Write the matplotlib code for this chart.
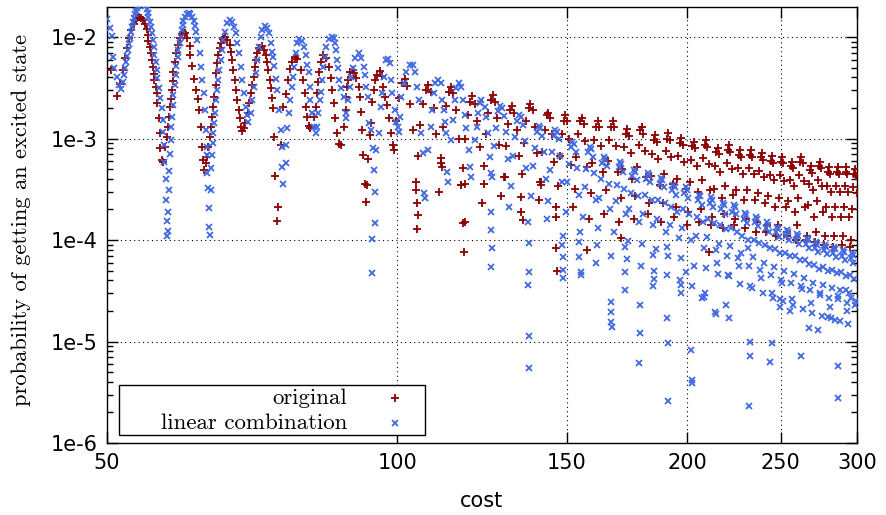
import matplotlib
matplotlib.use("Agg")
import matplotlib.pyplot as plt
from matplotlib.ticker import FixedLocator, FixedFormatter, NullLocator, LogLocator, NullFormatter
from matplotlib.patches import Rectangle

# ---------------- data ----------------
x_ticks = [50, 100, 150, 200, 250, 300]
x_tick_labels = ["50", "100", "150", "200", "250", "300"]
y_ticks = [1e-6, 1e-5, 1e-4, 1e-3, 1e-2]
y_tick_labels = ["1e-6", "1e-5", "1e-4", "1e-3", "1e-2"]

series_names = ["original", "linear combination"]

red_cost = [
    50.5, 51.2, 51.6,
    51.9, 52.2, 52.4, 52.7, 52.9, 53.3, 53.6, 53.7, 54.0, 54.2, 54.5, 54.7, 55.0, 55.1, 55.2, 55.4, 55.5, 55.65, 55.8, 55.9, 56.0, 56.2, 56.3, 56.4, 56.6, 56.7, 56.8, 57.0, 57.2,
    57.4, 57.7, 57.8, 58.0, 58.1, 58.2, 58.35, 58.5, 58.6, 58.8, 59.0, 59.2, 59.5, 59.75, 60.0, 60.3, 60.6, 60.9, 61.0, 61.3, 61.6, 61.9, 62.2, 62.3, 62.65, 62.8, 62.95, 63.1, 63.4,
    63.5, 63.6, 64.0, 64.15, 64.3, 64.45, 64.6, 64.8, 64.9, 65.1, 65.2, 65.5, 65.7, 66.0, 66.3, 66.6, 67.0, 67.3, 67.4, 67.6, 67.9, 68.1, 68.2, 68.6, 68.7, 68.9, 69.0, 69.4,
    69.5, 70.0, 70.2, 70.5, 70.7, 71.0, 71.2, 71.4, 71.5, 71.9, 72.4, 72.8, 73.1, 73.3, 73.4, 73.8, 74.0, 74.1, 74.3, 74.5, 74.7, 75.0, 75.2,
    75.75, 76.1, 76.65, 77.0, 77.4, 77.75, 78.3, 78.7, 79.4, 79.8, 80.2, 80.4, 80.6, 81.0, 81.3,
    81.9, 82.3, 82.5, 82.7, 82.9, 83.3, 83.7, 84.3, 84.9, 85.3, 85.5, 85.9, 86.3, 86.7, 87.1, 87.5,
    88.0, 88.4, 88.6, 88.8, 89.0, 89.4, 89.9, 90.3, 90.7, 91.2, 91.6, 91.8, 92.0, 92.2, 92.7, 92.9, 93.1, 93.3, 93.8,
    94.0, 94.2, 94.7, 94.9, 95.4, 96.0, 96.5, 96.7, 97.2, 97.6, 98.1, 98.6, 99.1,
    99.2, 99.8, 100.5, 101.2, 101.8, 102.5, 103.2, 103.9, 104.5,
    105.1, 105.7, 106.4, 107.1, 107.7, 108.4, 109.1, 109.8, 110.4,
    111.1, 111.7, 112.4, 113.1, 113.7, 114.4, 115.1, 115.8, 116.4,
    117.1, 117.7, 118.4, 119.1, 119.7, 120.4, 121.1, 121.8, 122.4,
    123.0, 123.6, 124.3, 125.0, 125.6, 126.3, 127.0, 127.7, 128.3,
    129.0, 129.6, 130.3, 131.0, 131.6, 132.3, 133.0, 133.7, 134.3,
    134.9, 135.5, 136.2, 136.9, 137.5, 138.2, 138.9, 139.6, 140.2,
    140.9, 141.5, 142.2, 142.9, 143.5, 144.2, 144.9, 145.6, 146.2,
    146.9, 147.5, 148.2, 148.9, 149.5, 150.2, 150.9, 151.6, 152.2,
    152.8, 153.4, 154.1, 154.8, 155.4, 156.1, 156.8, 157.5, 158.1,
    158.8, 159.4, 160.1, 160.8, 161.4, 162.1, 162.8, 163.5, 164.1,
    164.7, 165.3, 166.0, 166.7, 167.3, 168.0, 168.7, 169.4, 170.0,
    170.7, 171.3, 172.0, 172.7, 173.3, 174.0, 174.7, 175.4, 176.0,
    176.7, 177.3, 178.0, 178.7, 179.3, 180.0, 180.7, 181.4, 182.0,
    182.6, 183.2, 183.9, 184.6, 185.2, 185.9, 186.6, 187.3, 187.9,
    188.6, 189.2, 189.9, 190.6, 191.2, 191.9, 192.6, 193.3, 193.9,
    194.5, 195.1, 195.8, 196.5, 197.1, 197.8, 198.5, 199.2, 199.8,
    200.5, 201.1, 201.8, 202.5, 203.1, 203.8, 204.5, 205.2, 205.8,
    206.5, 207.1, 207.8, 208.5, 209.1, 209.8, 210.5, 211.2, 211.8,
    212.4, 213.0, 213.7, 214.4, 215.0, 215.7, 216.4, 217.1, 217.7,
    218.4, 219.0, 219.7, 220.4, 221.0, 221.7, 222.4, 223.1, 223.7,
    224.3, 224.9, 225.6, 226.3, 226.9, 227.6, 228.3, 229.0, 229.6,
    230.3, 230.9, 231.6, 232.3, 232.9, 233.6, 234.3, 235.0, 235.6,
    236.3, 236.9, 237.6, 238.3, 238.9, 239.6, 240.3, 241.0, 241.6,
    242.2, 242.8, 243.5, 244.2, 244.8, 245.5, 246.2, 246.9, 247.5,
    248.2, 248.8, 249.5, 250.2, 250.8, 251.5, 252.2, 252.9, 253.5,
    254.1, 254.7, 255.4, 256.1, 256.7, 257.4, 258.1, 258.8, 259.4,
    260.1, 260.7, 261.4, 262.1, 262.7, 263.4, 264.1, 264.8, 265.4,
    266.1, 266.7, 267.4, 268.1, 268.7, 269.4, 270.1, 270.8, 271.4,
    272.0, 272.6, 273.3, 274.0, 274.6, 275.3, 276.0, 276.7, 277.3,
    278.0, 278.6, 279.3, 280.0, 280.6, 281.3, 282.0, 282.7, 283.3,
    283.9, 284.5, 285.2, 285.9, 286.5, 287.2, 287.9, 288.6, 289.2,
    289.9, 290.5, 291.2, 291.9, 292.5, 293.2, 293.9, 294.6, 295.2,
    295.9, 296.5, 297.2, 297.9, 298.5, 299.2, 299.9,
]
red_prob = [
    4.7e-3, 2.6e-3, 3.45e-3,
    4.7e-3, 6.2e-3, 7.8e-3, 9.8e-3, 1.17e-2, 1.34e-2, 1.47e-2, 1.54e-2, 1.57e-2, 1.54e-2, 1.47e-2, 1.34e-2, 1.2e-2, 1.05e-2, 9.1e-3, 8.0e-3, 6.95e-3, 5.9e-3, 5.1e-3, 4.3e-3, 3.8e-3, 3.2e-3, 2.8e-3, 2.24e-3, 1.6e-3, 1.13e-3, 8.1e-4, 6.1e-4, 5.9e-4,
    8.2e-4, 1.03e-3, 1.3e-3, 1.62e-3, 2.05e-3, 2.45e-3, 3.0e-3, 3.7e-3, 4.5e-3, 5.7e-3, 6.95e-3, 8.3e-3, 9.8e-3, 1.07e-2, 1.12e-2, 1.09e-2, 9.8e-3, 8.1e-3, 6.65e-3, 5.2e-3, 3.85e-3, 3.0e-3, 2.45e-3, 1.9e-3, 1.3e-3, 8.2e-4, 6.1e-4, 4.9e-4, 5.7e-4,
    6.6e-4, 8.2e-4, 1.03e-3, 1.3e-3, 1.62e-3, 2.05e-3, 2.56e-3, 3.4e-3, 4.4e-3, 5.5e-3, 6.65e-3, 7.8e-3, 8.7e-3, 9.6e-3, 1.0e-2, 9.3e-3, 8.3e-3, 7.1e-3, 5.9e-3, 4.7e-3, 3.8e-3, 3.0e-3, 2.4e-3, 1.9e-3, 1.6e-3, 1.3e-3, 1.18e-3, 1.26e-3,
    1.43e-3, 1.79e-3, 2.24e-3, 2.8e-3, 3.4e-3, 4.0e-3, 5.1e-3, 5.9e-3, 6.95e-3, 7.8e-3, 8.15e-3, 7.45e-3, 6.65e-3, 5.7e-3, 4.7e-3, 3.8e-3, 3.15e-3, 2.5e-3, 2.0e-3, 1.03e-3, 4.3e-4, 1.53e-4, 2.1e-4,
    8.6e-4, 2.05e-3, 2.74e-3, 3.8e-3, 4.85e-3, 5.7e-3, 6.35e-3, 6.1e-3, 4.7e-3, 3.8e-3, 2.8e-3, 2.05e-3, 1.62e-3, 1.33e-3, 1.26e-3,
    1.62e-3, 2.05e-3, 2.8e-3, 3.6e-3, 4.5e-3, 5.7e-3, 6.65e-3, 6.2e-3, 5.1e-3, 3.95e-3, 3.0e-3, 2.24e-3, 1.6e-3, 1.13e-3, 8.8e-4, 8.6e-4,
    1.3e-3, 1.9e-3, 2.56e-3, 3.2e-3, 3.8e-3, 4.5e-3, 4.7e-3, 4.4e-3, 3.95e-3, 3.2e-3, 2.56e-3, 1.84e-3, 1.22e-3, 6.9e-4, 3.6e-4, 2.36e-4, 3.5e-4, 6.3e-4, 1.08e-3,
    1.43e-3, 2.3e-3, 3.0e-3, 3.8e-3, 4.2e-3, 4.6e-3, 4.1e-3, 3.2e-3, 2.56e-3, 2.14e-3, 1.6e-3, 1.13e-3, 8.6e-4,
    7.7e-4, 1.5e-3, 2.5e-3, 3.5e-3, 3.9e-3, 3.3e-3, 2.2e-3, 1.2e-3, 3.1e-4,
    6.7e-4, 1.35e-3, 2.2e-3, 3.0e-3, 3.4e-3, 2.9e-3, 2.0e-3, 1.1e-3, 3.0e-4,
    6.4e-4, 1.3e-3, 2.1e-3, 2.9e-3, 3.2e-3, 2.8e-3, 1.9e-3, 1.0e-3, 3.5e-4,
    5.1e-4, 1.0e-3, 1.7e-3, 2.3e-3, 2.6e-3, 2.2e-3, 1.5e-3, 8.2e-4, 2.3e-4,
    5.4e-4, 1.1e-3, 1.8e-3, 2.4e-3, 2.7e-3, 2.3e-3, 1.6e-3, 8.6e-4, 2.7e-4,
    4.2e-4, 8.4e-4, 1.4e-3, 1.9e-3, 2.1e-3, 1.8e-3, 1.2e-3, 6.7e-4, 1.9e-4,
    4.5e-4, 9.0e-4, 1.5e-3, 2.0e-3, 2.2e-3, 1.9e-3, 1.3e-3, 7.2e-4, 2.5e-4,
    3.7e-4, 7.4e-4, 1.2e-3, 1.7e-3, 1.8e-3, 1.6e-3, 1.1e-3, 5.9e-4, 1.7e-4,
    3.4e-4, 6.8e-4, 1.1e-3, 1.5e-3, 1.7e-3, 1.5e-3, 9.9e-4, 5.5e-4, 2.1e-4,
    3.2e-4, 6.5e-4, 1.1e-3, 1.5e-3, 1.6e-3, 1.4e-3, 9.4e-4, 5.2e-4, 1.6e-4,
    2.9e-4, 5.8e-4, 9.6e-4, 1.3e-3, 1.5e-3, 1.3e-3, 8.5e-4, 4.7e-4, 1.8e-4,
    3.1e-4, 6.0e-4, 9.6e-4, 1.3e-3, 1.5e-3, 1.3e-3, 8.5e-4, 4.7e-4, 1.5e-4,
    2.6e-4, 5.0e-4, 8.2e-4, 1.1e-3, 1.24e-3, 1.07e-3, 7.2e-4, 4.0e-4, 1.6e-4,
    2.7e-4, 5.2e-4, 8.6e-4, 1.2e-3, 1.3e-3, 1.1e-3, 7.5e-4, 4.2e-4, 1.8e-4,
    2.3e-4, 4.3e-4, 7.1e-4, 9.7e-4, 1.08e-3, 9.3e-4, 6.3e-4, 3.5e-4, 1.5e-4,
    2.3e-4, 4.5e-4, 7.5e-4, 1.0e-3, 1.13e-3, 9.7e-4, 6.6e-4, 3.6e-4, 1.7e-4,
    2.1e-4, 4.0e-4, 6.7e-4, 9.1e-4, 1.01e-3, 8.7e-4, 5.9e-4, 3.2e-4, 1.4e-4,
    1.9e-4, 3.7e-4, 6.1e-4, 8.4e-4, 9.3e-4, 8.0e-4, 5.4e-4, 3.0e-4, 1.5e-4,
    2.0e-4, 3.9e-4, 6.4e-4, 8.7e-4, 9.7e-4, 8.3e-4, 5.6e-4, 3.1e-4, 1.4e-4,
    1.7e-4, 3.2e-4, 5.3e-4, 7.3e-4, 8.1e-4, 7.0e-4, 4.7e-4, 2.6e-4, 1.3e-4,
    1.8e-4, 3.4e-4, 5.7e-4, 7.7e-4, 8.6e-4, 7.4e-4, 5.0e-4, 2.8e-4, 1.4e-4,
    1.6e-4, 3.1e-4, 5.1e-4, 6.9e-4, 7.7e-4, 6.6e-4, 4.5e-4, 2.5e-4, 1.3e-4,
    1.6e-4, 3.1e-4, 5.1e-4, 6.9e-4, 7.7e-4, 6.6e-4, 4.5e-4, 2.5e-4, 1.2e-4,
    1.5e-4, 2.9e-4, 4.8e-4, 6.5e-4, 7.2e-4, 6.2e-4, 4.2e-4, 2.3e-4, 1.2e-4,
    1.4e-4, 2.7e-4, 4.4e-4, 6.0e-4, 6.7e-4, 5.8e-4, 3.9e-4, 2.1e-4, 1.1e-4,
    1.4e-4, 2.6e-4, 4.4e-4, 5.9e-4, 6.6e-4, 5.7e-4, 3.8e-4, 2.1e-4, 1.1e-4,
    1.2e-4, 2.4e-4, 3.9e-4, 5.3e-4, 5.9e-4, 5.1e-4, 3.4e-4, 1.9e-4, 1.0e-4,
    1.4e-4, 2.6e-4, 4.4e-4, 5.9e-4, 6.6e-4, 5.7e-4, 3.8e-4, 2.1e-4, 1.0e-4,
    1.1e-4, 2.2e-4, 3.6e-4, 4.9e-4, 5.4e-4, 4.6e-4, 3.1e-4, 1.7e-4, 9.5e-5,
    1.2e-4, 2.4e-4, 3.9e-4, 5.3e-4, 5.9e-4, 5.1e-4, 3.4e-4, 1.9e-4, 9.0e-5,
    1.1e-4, 2.1e-4, 3.4e-4, 4.7e-4, 5.2e-4, 4.5e-4, 3.0e-4, 1.7e-4, 8.5e-5,
    1.1e-4, 2.1e-4, 3.4e-4, 4.7e-4, 5.2e-4, 4.5e-4, 3.0e-4, 1.7e-4, 9.0e-5,
    1.1e-4, 2.1e-4, 3.4e-4, 4.7e-4, 5.2e-4, 4.5e-4, 3.0e-4, 1.7e-4, 8.5e-5,
    1.0e-4, 2.0e-4, 3.3e-4, 4.5e-4, 5.0e-4, 4.3e-4, 2.9e-4,
]
# isolated low points of the original series
red_low_cost = [104.7, 104.9, 105.2, 104.9, 111.0, 111.3, 116.5, 117.6, 117.6, 117.0, 117.3, 123.0,
                129.3, 134.4, 135.0, 140.7, 141.0, 146.3, 146.3, 146.5, 157.3, 170.8, 210.5]
red_low_prob = [3.7e-4, 2.3e-4, 1.78e-4, 1.29e-4, 5.7e-4, 5.2e-4, 3.5e-4, 3.6e-4, 1.5e-4, 1.47e-4, 7.6e-5, 3.6e-4,
                4.2e-4, 2.65e-4, 1.57e-4, 3.7e-4, 3.5e-4, 2.1e-4, 8.3e-5, 5.0e-5, 7.9e-5, 1.05e-4, 7.6e-5]

blue_cost = [
    50.0, 50.4, 50.6, 50.7, 50.9, 51.2, 51.45, 51.7, 51.9,
    52.05, 52.2, 52.3, 52.4, 52.6, 52.7, 52.8, 52.9, 53.1, 53.2, 53.3, 53.45, 53.6, 53.7, 53.8, 54.1, 54.3, 54.5, 54.7, 55.0, 55.1, 55.2, 55.4, 55.5, 55.65, 55.8, 55.9, 56.0, 56.2, 56.3, 56.4, 56.6, 56.7, 57.0, 57.1, 57.2, 57.3, 57.35, 57.5, 57.55, 57.66, 57.7,
    57.8, 57.85, 58.0, 58.05, 58.1, 58.2, 58.25, 58.35, 58.5, 58.6, 58.8, 58.9, 59.0, 59.2, 59.3, 59.5, 59.6, 59.75, 59.9, 60.0, 60.2, 60.5, 60.75, 61.0, 61.3, 61.6, 61.75, 61.9, 62.05, 62.4, 62.65, 62.8, 63.1, 63.25, 63.4, 63.45, 63.5, 63.55, 63.65, 63.8, 63.85, 63.9,
    64.1, 64.15, 64.3, 64.35, 64.45, 64.6, 64.75, 64.9, 65.1, 65.2, 65.35, 65.7, 65.85, 66.0, 66.3, 66.6, 67.1, 67.4, 67.7, 68.1, 68.2, 68.6, 68.9, 69.0, 69.4, 69.7, 69.9, 70.05,
    70.5, 70.7, 71.05, 71.4, 71.5, 71.9, 72.2, 72.4, 72.9, 73.3, 73.6, 74.0, 74.15, 74.3, 74.5, 74.9, 75.0, 75.4, 75.75, 75.9, 76.0, 76.1,
    76.65, 76.7, 76.85, 77.2, 77.4, 77.75, 77.95, 78.1, 78.5, 78.7, 79.05, 79.6, 80.0, 80.4, 80.6, 80.95, 81.2, 81.3, 81.5, 81.9, 82.3, 82.5,
    82.7, 83.1, 83.3, 83.5, 83.7, 84.1, 84.3, 84.9, 85.5, 85.9, 86.3, 86.5, 86.7, 86.9, 87.0, 87.4, 88.0, 88.4, 88.6,
    89.0, 89.4, 89.6, 89.9, 90.5, 91.4, 91.8, 92.3, 92.7, 92.9, 93.35, 93.6, 94.0, 94.5, 94.7, 94.9, 94.75, 94.25, 94.25,
    95.15, 95.8, 96.3, 96.5, 96.95, 97.4, 97.9, 98.3, 98.6, 98.8, 99.5, 99.8, 100.2, 100.5,
    100.7, 101.0, 101.7, 102.2, 103.2, 103.9, 104.4, 104.9, 105.4, 105.9, 106.4, 106.7, 106.9,
    107.7, 108.5, 108.7, 109.2, 109.5, 110.3, 111.1, 111.35, 111.85, 112.1, 112.4, 112.7, 113.0,
    113.7, 114.2, 114.8, 115.1, 115.9, 116.5, 117.0, 117.6, 117.9, 118.8, 119.1, 119.3,
    120.4, 121.0, 121.3, 121.9, 122.2, 123.3, 123.6, 124.2, 124.8, 125.0, 125.1, 125.2, 125.4, 125.1,
    125.4, 126.0, 126.6, 127.2, 127.8, 128.4, 129.0, 129.6, 130.2, 130.7,
    131.4, 132.0, 132.6, 133.2, 133.8, 134.4, 135.0, 135.6, 136.2, 136.7,
    137.8, 138.4, 139.0, 139.6, 140.2, 140.8, 141.4, 142.0, 142.6, 143.1,
    143.5, 144.1, 144.7, 145.3, 145.9, 146.5, 147.1, 147.7, 148.3, 148.8,
    149.6, 150.2, 150.8, 151.4, 152.0, 152.6, 153.2, 153.8, 154.4, 154.9,
    156.0, 156.6, 157.2, 157.8, 158.4, 159.0, 159.6, 160.2, 160.8, 161.3,
    161.5, 162.1, 162.7, 163.3, 163.9, 164.5, 165.1, 165.7, 166.3, 166.8,
    167.9, 168.5, 169.1, 169.7, 170.3, 170.9, 171.5, 172.1, 172.7, 173.2,
    173.6, 174.2, 174.8, 175.4, 176.0, 176.6, 177.2, 177.8, 178.4, 178.9,
    179.5, 180.1, 180.7, 181.3, 181.9, 182.5, 183.1, 183.7, 184.3, 184.8,
    185.4, 186.0, 186.6, 187.2, 187.8, 188.4, 189.0, 189.6, 190.2, 190.7,
    191.1, 191.7, 192.3, 192.9, 193.5, 194.1, 194.7, 195.3, 195.9, 196.4,
    196.8, 197.4, 198.0, 198.6, 199.2, 199.8, 200.4, 201.0, 201.6, 202.1,
    203.4, 204.0, 204.6, 205.2, 205.8, 206.4, 207.0, 207.6, 208.2, 208.7,
    209.2, 209.8, 210.4, 211.0, 211.6, 212.2, 212.8, 213.4, 214.0, 214.5,
    215.2, 215.8, 216.4, 217.0, 217.6, 218.2, 218.8, 219.4, 220.0, 220.5,
    221.0, 221.6, 222.2, 222.8, 223.4, 224.0, 224.6, 225.2, 225.8, 226.3,
    227.0, 227.6, 228.2, 228.8, 229.4, 230.0, 230.6, 231.2, 231.8, 232.3,
    233.2, 233.8, 234.4, 235.0, 235.6, 236.2, 236.8, 237.4, 238.0, 238.5,
    239.4, 240.0, 240.6, 241.2, 241.8, 242.4, 243.0, 243.6, 244.2, 244.7,
    245.4, 246.0, 246.6, 247.2, 247.8, 248.4, 249.0, 249.6, 250.2, 250.7,
    251.5, 252.1, 252.7, 253.3, 253.9, 254.5, 255.1, 255.7, 256.3, 256.8,
    257.5, 258.1, 258.7, 259.3, 259.9, 260.5, 261.1, 261.7, 262.3, 262.8,
    263.6, 264.2, 264.8, 265.4, 266.0, 266.6, 267.2, 267.8, 268.4, 268.9,
    269.6, 270.2, 270.8, 271.4, 272.0, 272.6, 273.2, 273.8, 274.4, 274.9,
    275.7, 276.3, 276.9, 277.5, 278.1, 278.7, 279.3, 279.9, 280.5, 281.0,
    281.7, 282.3, 282.9, 283.5, 284.1, 284.7, 285.3, 285.9, 286.5, 287.0,
    287.8, 288.4, 289.0, 289.6, 290.2, 290.8, 291.4, 292.0, 292.6, 293.1,
    293.8, 294.4, 295.0, 295.6, 296.2, 296.8, 297.4, 298.0, 298.6, 299.1,
]
blue_prob = [
    1.5e-2, 1.23e-2, 1.02e-2, 6.35e-3, 4.95e-3, 4.03e-3, 3.37e-3, 3.08e-3, 3.6e-3,
    4.22e-3, 4.95e-3, 5.67e-3, 6.5e-3, 7.45e-3, 8.53e-3, 9.77e-3, 1.12e-2, 1.25e-2, 1.41e-2, 1.54e-2, 1.69e-2, 1.8e-2, 1.93e-2, 2.02e-2, 2.11e-2, 2.16e-2, 2.11e-2, 2.02e-2, 1.89e-2, 1.72e-2, 1.57e-2, 1.41e-2, 1.25e-2, 1.09e-2, 9.34e-3, 7.97e-3, 6.65e-3, 5.67e-3, 4.73e-3, 3.95e-3, 3.15e-3, 2.5e-3, 2.0e-3, 1.53e-3, 1.16e-3, 8.63e-4, 5.9e-4, 4.0e-4, 2.47e-4, 1.53e-4, 1.09e-4,
    1.22e-4, 1.9e-4, 3.11e-4, 4.8e-4, 7.0e-4, 9.67e-4, 1.3e-3, 1.62e-3, 2.14e-3, 2.68e-3, 3.37e-3, 4.22e-3, 5.18e-3, 6.35e-3, 7.45e-3, 8.72e-3, 1.0e-2, 1.17e-2, 1.31e-2, 1.44e-2, 1.57e-2, 1.69e-2, 1.72e-2, 1.69e-2, 1.57e-2, 1.44e-2, 1.28e-2, 1.12e-2, 9.34e-3, 6.95e-3, 5.06e-3, 3.77e-3, 2.81e-3, 1.91e-3, 1.22e-3, 8.2e-4, 6.88e-4, 4.57e-4, 3.25e-4, 2.05e-4, 1.34e-4, 1.12e-4,
    3.11e-4, 5.1e-4, 6.88e-4, 9.0e-4, 1.13e-3, 1.43e-3, 1.79e-3, 2.39e-3, 3.01e-3, 3.77e-3, 4.73e-3, 5.93e-3, 7.45e-3, 9.34e-3, 1.12e-2, 1.37e-2, 1.47e-2, 1.41e-2, 1.25e-2, 1.09e-2, 8.72e-3, 6.95e-3, 5.06e-3, 3.77e-3, 2.81e-3, 2.05e-3, 1.71e-3, 1.46e-3,
    1.79e-3, 2.39e-3, 3.22e-3, 4.42e-3, 5.93e-3, 7.97e-3, 1.0e-2, 1.17e-2, 1.28e-2, 1.23e-2, 1.09e-2, 8.72e-3, 7.1e-3, 6.35e-3, 5.18e-3, 3.86e-3, 3.01e-3, 1.91e-3, 1.22e-3, 8.2e-4, 5.24e-4, 3.56e-4,
    5.73e-4, 8.63e-4, 1.27e-3, 1.79e-3, 2.39e-3, 3.22e-3, 4.03e-3, 5.06e-3, 6.95e-3, 8.72e-3, 9.56e-3, 9.13e-3, 7.97e-3, 6.65e-3, 5.3e-3, 4.52e-3, 3.22e-3, 2.39e-3, 1.79e-3, 1.3e-3, 1.13e-3, 1.3e-3,
    1.79e-3, 2.39e-3, 2.87e-3, 3.77e-3, 5.06e-3, 6.35e-3, 7.97e-3, 9.56e-3, 1.0e-2, 9.8e-3, 8.72e-3, 7.45e-3, 5.93e-3, 4.95e-3, 3.77e-3, 3.15e-3, 2.56e-3, 1.79e-3, 1.6e-3,
    2.39e-3, 3.22e-3, 4.03e-3, 4.95e-3, 6.21e-3, 6.95e-3, 6.21e-3, 5.06e-3, 4.22e-3, 3.22e-3, 2.56e-3, 1.43e-3, 1.22e-3, 8.06e-4, 4.89e-4, 2.97e-4, 1.47e-4, 1.03e-4, 4.74e-5,
    7.7e-4, 1.13e-3, 2.05e-3, 2.81e-3, 4.03e-3, 5.93e-3, 6.07e-3, 5.54e-3, 3.77e-3, 2.81e-3, 1.91e-3, 1.46e-3, 1.3e-3, 1.16e-3,
    1.62e-3, 2.56e-3, 3.52e-3, 4.52e-3, 5.3e-3, 5.3e-3, 4.52e-3, 3.22e-3, 2.39e-3, 1.13e-3, 7.19e-4, 2.9e-4, 2.6e-4,
    7.7e-4, 1.3e-3, 1.91e-3, 2.81e-3, 3.52e-3, 3.77e-3, 3.52e-3, 2.39e-3, 1.91e-3, 1.46e-3, 1.13e-3, 4.67e-4, 3.72e-4,
    9.67e-4, 1.53e-3, 2.39e-3, 3.15e-3, 3.52e-3, 3.22e-3, 2.39e-3, 1.71e-3, 1.27e-3, 7.7e-4, 5.24e-4, 4.17e-4,
    9.67e-4, 1.3e-3, 1.79e-3, 2.24e-3, 2.39e-3, 2.05e-3, 1.62e-3, 1.13e-3, 6.57e-4, 4.57e-4, 1.9e-4, 1.26e-4, 8.3e-5, 5.4e-5,
    4.2e-4, 8.4e-4, 1.26e-3, 1.85e-3, 2.1e-3, 2.0e-3, 1.68e-3, 1.16e-3, 6.3e-4, 2.1e-4,
    3.4e-4, 6.8e-4, 1.03e-3, 1.5e-3, 1.71e-3, 1.62e-3, 1.37e-3, 9.4e-4, 5.1e-4, 1.5e-4,
    2.7e-4, 5.3e-4, 8.0e-4, 1.17e-3, 1.33e-3, 1.26e-3, 1.06e-3, 7.3e-4, 4.0e-4, 1.6e-4,
    2.4e-4, 4.9e-4, 7.3e-4, 1.07e-3, 1.22e-3, 1.16e-3, 9.8e-4, 6.7e-4, 3.7e-4, 1.1e-4,
    1.9e-4, 3.7e-4, 5.6e-4, 8.2e-4, 9.3e-4, 8.8e-4, 7.4e-4, 5.1e-4, 2.8e-4, 1.2e-4,
    1.7e-4, 3.3e-4, 5.0e-4, 7.3e-4, 8.3e-4, 7.9e-4, 6.6e-4, 4.6e-4, 2.5e-4, 9.0e-5,
    1.3e-4, 2.6e-4, 4.0e-4, 5.8e-4, 6.6e-4, 6.3e-4, 5.3e-4, 3.6e-4, 2.0e-4, 7.0e-5,
    1.2e-4, 2.4e-4, 3.5e-4, 5.2e-4, 5.9e-4, 5.6e-4, 4.7e-4, 3.2e-4, 1.8e-4, 6.5e-5,
    9.8e-5, 2.0e-4, 2.9e-4, 4.3e-4, 4.9e-4, 4.7e-4, 3.9e-4, 2.7e-4, 1.5e-4, 5.5e-5,
    9.2e-5, 1.8e-4, 2.8e-4, 4.0e-4, 4.6e-4, 4.4e-4, 3.7e-4, 2.5e-4, 1.4e-4, 5.0e-5,
    8.2e-5, 1.6e-4, 2.5e-4, 3.6e-4, 4.1e-4, 3.9e-4, 3.3e-4, 2.3e-4, 1.2e-4, 4.5e-5,
    7.0e-5, 1.4e-4, 2.1e-4, 3.1e-4, 3.5e-4, 3.3e-4, 2.8e-4, 1.9e-4, 1.05e-4, 4.0e-5,
    6.6e-5, 1.3e-4, 2.0e-4, 2.9e-4, 3.3e-4, 3.1e-4, 2.6e-4, 1.8e-4, 9.9e-5, 3.5e-5,
    5.6e-5, 1.1e-4, 1.7e-4, 2.5e-4, 2.8e-4, 2.7e-4, 2.2e-4, 1.5e-4, 8.4e-5, 3.0e-5,
    5.3e-5, 1.06e-4, 1.6e-4, 2.3e-4, 2.65e-4, 2.5e-4, 2.1e-4, 1.46e-4, 8.0e-5, 6.0e-5,
    4.6e-5, 9.2e-5, 1.4e-4, 2.0e-4, 2.3e-4, 2.2e-4, 1.8e-4, 1.27e-4, 6.9e-5, 4.5e-5,
    4.4e-5, 8.8e-5, 1.3e-4, 1.9e-4, 2.2e-4, 2.1e-4, 1.8e-4, 1.2e-4, 6.6e-5, 5.5e-5,
    3.7e-5, 7.4e-5, 1.1e-4, 1.6e-4, 1.85e-4, 1.76e-4, 1.48e-4, 1.0e-4, 5.6e-5, 3.5e-5,
    3.4e-5, 6.8e-5, 1.0e-4, 1.5e-4, 1.7e-4, 1.6e-4, 1.36e-4, 9.4e-5, 5.1e-5, 4.2e-5,
    3.0e-5, 6.0e-5, 9.0e-5, 1.3e-4, 1.5e-4, 1.4e-4, 1.2e-4, 8.3e-5, 4.5e-5, 3.0e-5,
    2.7e-5, 5.4e-5, 8.1e-5, 1.2e-4, 1.35e-4, 1.28e-4, 1.08e-4, 7.4e-5, 4.0e-5, 3.8e-5,
    2.5e-5, 5.0e-5, 7.5e-5, 1.1e-4, 1.25e-4, 1.19e-4, 1.0e-4, 6.9e-5, 3.8e-5, 2.6e-5,
    2.3e-5, 4.6e-5, 6.9e-5, 1.0e-4, 1.15e-4, 1.09e-4, 9.2e-5, 6.3e-5, 3.5e-5, 3.3e-5,
    2.1e-5, 4.2e-5, 6.3e-5, 9.2e-5, 1.05e-4, 1.0e-4, 8.4e-5, 5.8e-5, 3.2e-5, 2.4e-5,
    1.9e-5, 3.8e-5, 5.7e-5, 8.4e-5, 9.5e-5, 9.0e-5, 7.6e-5, 5.2e-5, 2.9e-5, 3.0e-5,
    1.8e-5, 3.6e-5, 5.4e-5, 7.9e-5, 9.0e-5, 8.6e-5, 7.2e-5, 5.0e-5, 2.7e-5, 2.2e-5,
    1.7e-5, 3.4e-5, 5.1e-5, 7.5e-5, 8.5e-5, 8.1e-5, 6.8e-5, 4.7e-5, 2.6e-5, 2.8e-5,
    1.6e-5, 3.2e-5, 4.8e-5, 7.0e-5, 8.0e-5, 7.6e-5, 6.4e-5, 4.4e-5, 2.4e-5, 2.0e-5,
    1.5e-5, 3.0e-5, 4.5e-5, 6.6e-5, 7.5e-5, 7.1e-5, 6.0e-5, 4.1e-5, 2.3e-5, 2.5e-5,
]
# isolated low points of the linear-combination series
blue_low_cost = [136.9, 136.9, 136.6, 136.9, 136.9, 148.4, 148.8, 148.8, 148.8, 154.5, 154.5, 155.3, 155.3,
                 160.9, 166.7, 166.7, 166.7, 167.1, 172.3, 172.3, 172.3, 178.5, 178.5, 178.1, 184.2, 184.6,
                 184.2, 190.4, 190.4, 190.8, 190.8, 196.8, 196.8, 199.2, 202.0, 202.5, 202.5, 207.3, 208.3,
                 213.8, 214.3, 219.5, 220.8, 231.2, 232.3, 232.3, 231.7, 244.8, 243.7, 249.5, 249.5, 255.5,
                 262.2, 267.2, 273.1, 279.6, 284.3, 286.4, 286.4, 291.9, 296.0]
blue_low_prob = [9.4e-5, 4.8e-5, 3.6e-5, 1.13e-5, 5.5e-6, 8.9e-5, 6.8e-5, 5.1e-5, 4.2e-5, 9.6e-5, 6.8e-5, 4.8e-5, 4.5e-5,
                 6.0e-5, 2.45e-5, 1.96e-5, 1.56e-5, 1.4e-5, 8.5e-5, 4.8e-5, 3.2e-5, 2.3e-5, 1.2e-5, 6.2e-6, 7.1e-5, 4.1e-5,
                 3.5e-5, 8.5e-5, 1.7e-5, 9.7e-6, 2.6e-6, 3.6e-5, 3.0e-5, 4.8e-5, 8.2e-6, 4.2e-6, 3.9e-6, 2.7e-5, 2.75e-5,
                 1.96e-5, 1.85e-5, 2.3e-5, 1.7e-5, 8.3e-5, 9.9e-6, 7.2e-6, 2.3e-6, 9.7e-6, 6.3e-6, 2.6e-5, 2.2e-5, 2.0e-5,
                 7.2e-6, 1.37e-5, 1.3e-5, 1.75e-5, 1.63e-5, 5.8e-6, 2.8e-6, 3.2e-5, 2.7e-5]

# ---------------- figure ----------------
RED = "#8b0000"
BLUE = "#4169e1"
RED_MS, BLUE_MS, MEW = 5.2, 4.3, 1.3

fig = plt.figure(figsize=(8.86, 5.15), dpi=100)
ax = fig.add_axes([107 / 886, 1 - 443 / 515, 750 / 886, 436 / 515])
ax.set_xscale("log")
ax.set_yscale("log")
ax.set_xlim(50, 300)
ax.set_ylim(1e-6, 1.975e-2)

ax.plot(red_cost + red_low_cost, red_prob + red_low_prob, linestyle="none",
        marker="+", markersize=RED_MS, markeredgewidth=MEW, color=RED, zorder=3)
ax.plot(blue_cost + blue_low_cost, blue_prob + blue_low_prob, linestyle="none",
        marker="x", markersize=BLUE_MS, markeredgewidth=MEW, color=BLUE, zorder=4)

ax.xaxis.set_major_locator(FixedLocator(x_ticks))
ax.xaxis.set_major_formatter(FixedFormatter(x_tick_labels))
ax.xaxis.set_minor_locator(NullLocator())
ax.yaxis.set_major_locator(FixedLocator(y_ticks))
ax.yaxis.set_major_formatter(FixedFormatter(y_tick_labels))
ax.yaxis.set_minor_locator(LogLocator(base=10, subs=range(2, 10)))
ax.yaxis.set_minor_formatter(NullFormatter())

ax.tick_params(which="both", direction="in", top=True, right=True, width=1.0, colors="black")
ax.tick_params(which="major", length=8, labelsize=15, pad=7)
ax.tick_params(which="minor", length=4)
for s in ax.spines.values():
    s.set_linewidth(1.0)
    s.set_color("black")

ax.grid(True, which="major", linestyle=(0, (1, 3)), color="black", linewidth=0.8)

fig.text(0.544, 0.028, "cost", ha="center", va="center", fontsize=15)
fig.text(0.024, 0.573, "probability of getting an excited state", rotation=90,
         ha="center", va="center", fontsize=16.2, family="cmr10")

# gnuplot-style key (text right-justified, sample to the right)
ax.add_patch(Rectangle((0.016, 0.018), 0.408, 0.115, transform=ax.transAxes,
                       facecolor="white", edgecolor="black", linewidth=1.0, zorder=6))
ax.text(0.32, 0.103, series_names[0], transform=ax.transAxes, ha="right", va="center",
        fontsize=16.5, family="cmr10", zorder=7)
ax.text(0.32, 0.046, series_names[1], transform=ax.transAxes, ha="right", va="center",
        fontsize=16.5, family="cmr10", zorder=7)
ax.plot([0.384], [0.103], transform=ax.transAxes, linestyle="none", marker="+",
        markersize=RED_MS, markeredgewidth=MEW, color=RED, zorder=7, clip_on=False)
ax.plot([0.384], [0.046], transform=ax.transAxes, linestyle="none", marker="x",
        markersize=BLUE_MS, markeredgewidth=MEW, color=BLUE, zorder=7, clip_on=False)

fig.savefig("out.png", dpi=100)
